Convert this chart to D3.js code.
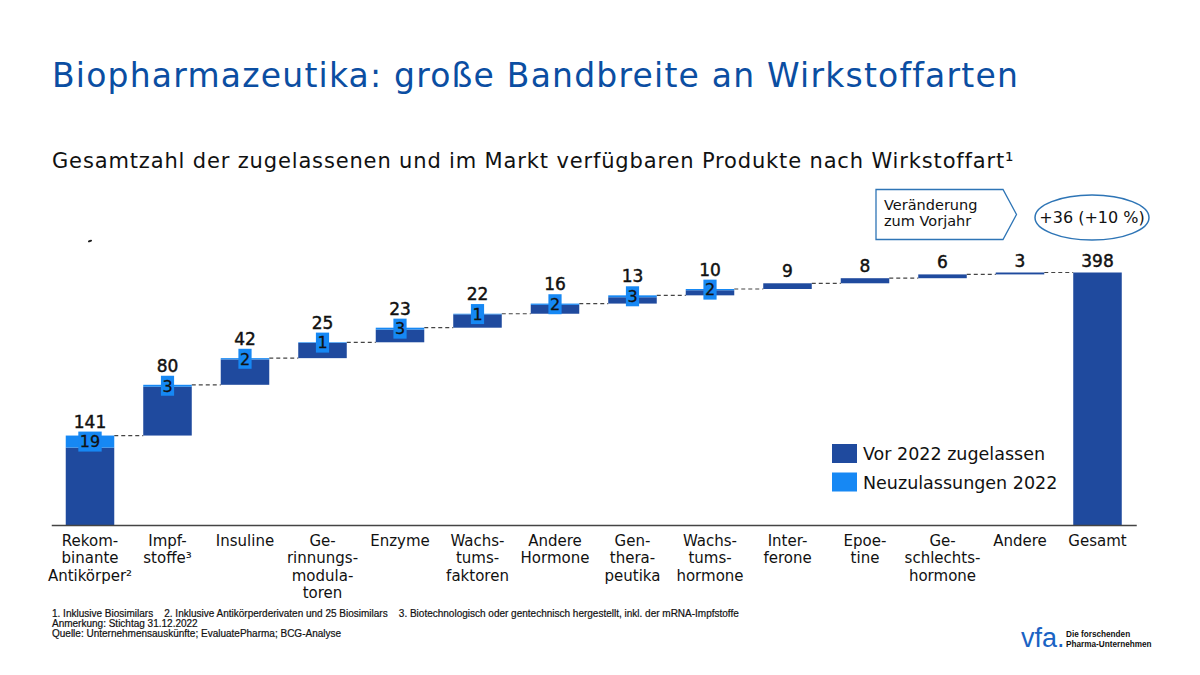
<!DOCTYPE html>
<html>
<head>
<meta charset="utf-8">
<script src="https://cdn.jsdelivr.net/npm/d3@7"></script>
<style>
  body { margin: 0; background: #fff; }
  svg { display: block; }
</style>
</head>
<body>
<div id="showBox"></div>
<script>
const categories = [
    ["Rekom-", "binante", "Antikörper²"],
    ["Impf-", "stoffe³"],
    ["Insuline"],
    ["Ge-", "rinnungs-", "modula-", "toren"],
    ["Enzyme"],
    ["Wachs-", "tums-", "faktoren"],
    ["Andere", "Hormone"],
    ["Gen-", "thera-", "peutika"],
    ["Wachs-", "tums-", "hormone"],
    ["Inter-", "ferone"],
    ["Epoe-", "tine"],
    ["Ge-", "schlechts-", "hormone"],
    ["Andere"],
    ["Gesamt"]
]
const totals = [141, 80, 42, 25, 23, 22, 16, 13, 10, 9, 8, 6, 3]
const newApprovals = [19, 3, 2, 1, 3, 1, 2, 3, 2, 0, 0, 0, 0]
const legendLabels = ["Vor 2022 zugelassen", "Neuzulassungen 2022"]
const footnotes = [
    "1. Inklusive Biosimilars    2. Inklusive Antikörperderivaten und 25 Biosimilars    3. Biotechnologisch oder gentechnisch hergestellt, inkl. der mRNA-Impfstoffe",
    "Anmerkung: Stichtag 31.12.2022",
    "Quelle: Unternehmensauskünfte; EvaluatePharma; BCG-Analyse"
]

const darkBlue = "#1f4a9e"
const lightBlue = "#1688f4"
const font = "Verdana, 'DejaVu Sans', sans-serif"

const W = 1200, H = 675
const svg = d3.select("#showBox").append("svg").attr("width", W).attr("height", H)

svg.append("text")
    .attr("x", 52).attr("y", 87)
    .attr("font-family", font).attr("font-size", 33)
    .attr("letter-spacing", 1.2)
    .attr("fill", "#0b4ea2")
    .text("Biopharmazeutika: große Bandbreite an Wirkstoffarten")

svg.append("text")
    .attr("x", 52).attr("y", 168)
    .attr("font-family", font).attr("font-size", 21)
    .attr("letter-spacing", 0.85)
    .attr("fill", "#111")
    .text("Gesamtzahl der zugelassenen und im Markt verfügbaren Produkte nach Wirkstoffart¹")

// waterfall steps
const grand = d3.sum(totals)
let cum = 0
const steps = totals.map((v, i) => {
    const s = {i: i, start: cum, end: cum + v, value: v, neu: newApprovals[i]}
    cum += v
    return s
})
steps.push({i: totals.length, start: 0, end: grand, value: grand, neu: 0, total: true})

const x = d3.scaleBand()
    .domain(d3.range(categories.length))
    .range([51.25, 1136.25])
    .paddingInner(0.374)
    .paddingOuter(0.187)
const y = d3.scaleLinear().domain([0, grand]).range([525, 272.5])
const bw = x.bandwidth()

// connectors
svg.append("g")
    .attr("stroke", "#444")
    .attr("stroke-width", 1.2)
    .attr("stroke-dasharray", "4,3")
    .selectAll("line")
    .data(steps.slice(0, -1))
    .join("line")
    .attr("x1", d => x(d.i) + bw)
    .attr("x2", d => x(d.i + 1))
    .attr("y1", d => y(d.end))
    .attr("y2", d => y(d.end))

const bars = svg.append("g")
bars.selectAll("rect.old")
    .data(steps)
    .join("rect")
    .attr("class", "old")
    .attr("x", d => x(d.i))
    .attr("width", bw)
    .attr("y", d => y(d.end - d.neu))
    .attr("height", d => Math.max(y(d.start) - y(d.end - d.neu), 0))
    .attr("fill", darkBlue)
bars.selectAll("rect.neu")
    .data(steps.filter(d => d.neu > 0))
    .join("rect")
    .attr("class", "neu")
    .attr("x", d => x(d.i))
    .attr("width", bw)
    .attr("y", d => y(d.end))
    .attr("height", d => y(d.end - d.neu) - y(d.end))
    .attr("fill", lightBlue)

// new approvals boxes
const boxes = svg.append("g")
    .selectAll("g")
    .data(steps.filter(d => d.neu > 0))
    .join("g")
    .attr("transform", d => `translate(${x(d.i) + bw / 2},${(y(d.end) + y(d.end - d.neu)) / 2})`)
boxes.append("text")
    .attr("text-anchor", "middle")
    .attr("dy", "0.36em")
    .attr("font-family", font).attr("font-size", 16)
    .attr("fill", "#111")
    .attr("stroke", "#111").attr("stroke-width", 0.3)
    .text(d => d.neu)
boxes.insert("rect", "text")
    .each(function (d) {
        const w = this.parentNode.querySelector("text").getComputedTextLength() + 3
        d3.select(this).attr("x", -w / 2).attr("width", w)
    })
    .attr("y", -10).attr("height", 20)
    .attr("fill", lightBlue)

// value labels
svg.append("g")
    .attr("font-family", font).attr("font-size", 17)
    .attr("text-anchor", "middle")
    .attr("fill", "#111")
    .attr("stroke", "#111").attr("stroke-width", 0.45)
    .selectAll("text")
    .data(steps)
    .join("text")
    .attr("x", d => x(d.i) + bw / 2)
    .attr("y", d => d.neu > 0 ? (y(d.end) + y(d.end - d.neu)) / 2 - 14 : y(d.end) - 6)
    .text(d => d.value)

// category axis
const axis = svg.append("g")
    .attr("transform", `translate(0,${y(0)})`)
    .call(d3.axisBottom(x).tickSize(0).tickSizeOuter(0).tickFormat(""))
axis.select(".domain").attr("stroke", "#444").attr("stroke-width", 1.3)
axis.selectAll(".tick text").remove()
axis.selectAll(".tick")
    .append("text")
    .attr("font-family", font).attr("font-size", 15)
    .attr("fill", "#111")
    .attr("text-anchor", "middle")
    .selectAll("tspan")
    .data(d => categories[d])
    .join("tspan")
    .attr("x", 0)
    .attr("y", (d, i) => 21 + i * 17.3)
    .text(d => d)

// legend
const legend = svg.append("g").attr("transform", "translate(832,444)")
legend.selectAll("rect")
    .data(legendLabels)
    .join("rect")
    .attr("x", 0).attr("y", (d, i) => i * 28.5)
    .attr("width", 25).attr("height", 19)
    .attr("fill", (d, i) => i === 0 ? darkBlue : lightBlue)
legend.selectAll("text")
    .data(legendLabels)
    .join("text")
    .attr("x", 31).attr("y", (d, i) => i * 28.5 + 16)
    .attr("font-family", font).attr("font-size", 17.5)
    .attr("fill", "#111")
    .text(d => d)

// change callout
svg.append("path")
    .attr("d", "M876,189.5H1003L1016.5,214.5L1003,239.5H876Z")
    .attr("fill", "#fff")
    .attr("stroke", "#2e75b6")
    .attr("stroke-width", 1.3)
svg.append("text")
    .attr("font-family", font).attr("font-size", 14.5)
    .attr("fill", "#111")
    .selectAll("tspan")
    .data(["Veränderung", "zum Vorjahr"])
    .join("tspan")
    .attr("x", 884)
    .attr("y", (d, i) => 210 + i * 16)
    .text(d => d)
svg.append("ellipse")
    .attr("cx", 1092).attr("cy", 217.5)
    .attr("rx", 57).attr("ry", 22.5)
    .attr("fill", "none")
    .attr("stroke", "#2e75b6")
    .attr("stroke-width", 1.5)
const growth = d3.sum(newApprovals)
svg.append("text")
    .attr("x", 1092).attr("y", 223)
    .attr("text-anchor", "middle")
    .attr("font-family", font).attr("font-size", 16)
    .attr("fill", "#111")
    .text(`+${growth} (+${Math.round(growth / (grand - growth) * 100)} %)`)

svg.append("ellipse")
    .attr("cx", 90).attr("cy", 241)
    .attr("rx", 2.2).attr("ry", 1)
    .attr("transform", "rotate(-20,90,241)")
    .attr("fill", "#222")

// footnotes
svg.append("g")
    .attr("font-family", "'Liberation Sans Narrow', 'Liberation Sans', Arial, sans-serif")
    .attr("font-size", 10)
    .attr("fill", "#111")
    .attr("stroke", "#111").attr("stroke-width", 0.2)
    .selectAll("text")
    .data(footnotes)
    .join("text")
    .attr("x", 52)
    .attr("y", (d, i) => 617 + i * 10)
    .style("white-space", "pre")
    .text(d => d)

// logo
svg.append("text")
    .attr("x", 1021).attr("y", 647)
    .attr("font-family", "'Liberation Sans', Arial, sans-serif")
    .attr("font-size", 27)
    .attr("fill", "#1a63c4")
    .text("vfa.")
svg.append("g")
    .attr("font-family", "'Liberation Sans Narrow', 'Liberation Sans', Arial, sans-serif")
    .attr("font-size", 8.2)
    .attr("font-weight", "bold")
    .attr("fill", "#111")
    .selectAll("text")
    .data(["Die forschenden", "Pharma-Unternehmen"])
    .join("text")
    .attr("x", 1066)
    .attr("y", (d, i) => 637 + i * 9.5)
    .text(d => d)
</script>
</body>
</html>
